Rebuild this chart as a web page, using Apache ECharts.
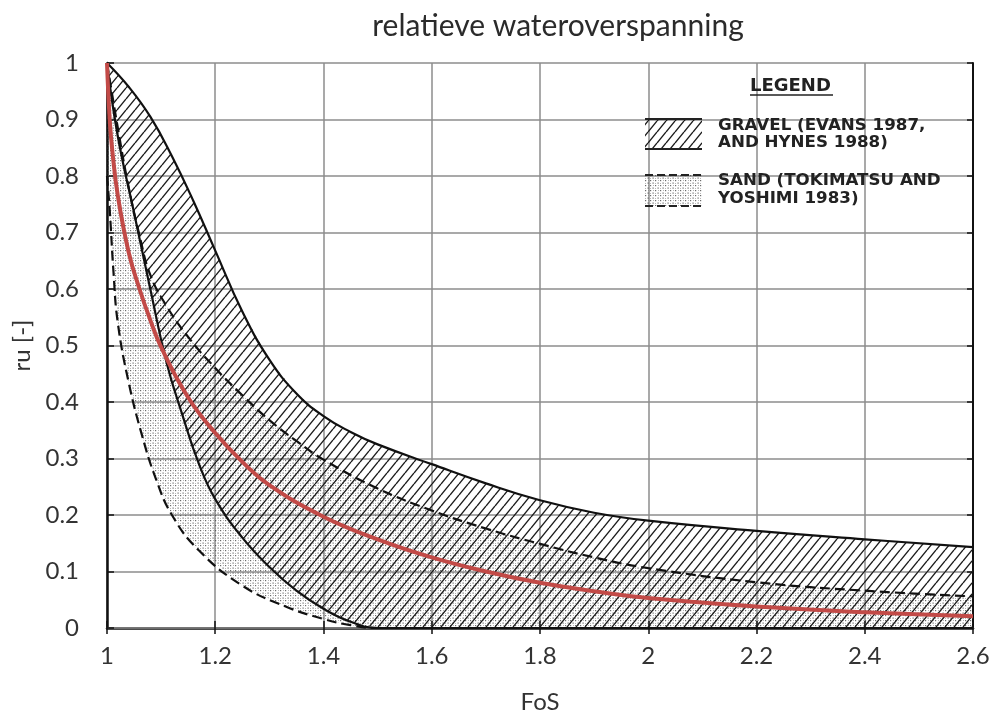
<!DOCTYPE html>
<html><head><meta charset="utf-8">
<script src="https://cdn.jsdelivr.net/npm/echarts@6/dist/echarts.min.js"></script>
<style>html,body{margin:0;padding:0;background:#fff}#c{width:994px;height:719px}</style>
</head><body><div id="c"></div>
<script>
// ---------- data ----------
var titleText = 'relatieve wateroverspanning';
var xName = 'FoS';
var yName = 'ru [-]';
var xTickLabels = ['1', '1.2', '1.4', '1.6', '1.8', '2', '2.2', '2.4', '2.6'];
var yTickLabels = ['0', '0.1', '0.2', '0.3', '0.4', '0.5', '0.6', '0.7', '0.8', '0.9', '1'];

// gravel band, upper boundary (solid)
var gravelUpperFos = [1.0, 1.04, 1.08, 1.12, 1.16, 1.2, 1.25, 1.3, 1.35, 1.4, 1.45, 1.5, 1.6, 1.7, 1.8, 1.9, 2.0, 2.2, 2.4, 2.6];
var gravelUpperRu  = [1.0, 0.958, 0.905, 0.835, 0.755, 0.668, 0.56, 0.475, 0.415, 0.375, 0.347, 0.325, 0.29, 0.256, 0.226, 0.204, 0.19, 0.172, 0.157, 0.143];
// gravel band, lower boundary (solid)
var gravelLowerFos = [1.0, 1.02, 1.05, 1.08, 1.11, 1.14, 1.17, 1.2, 1.25, 1.3, 1.35, 1.4, 1.45, 1.5, 2.6];
var gravelLowerRu  = [1.0, 0.87, 0.735, 0.6, 0.47, 0.375, 0.29, 0.228, 0.16, 0.108, 0.066, 0.034, 0.011, 0.0, 0.0];
// sand band, upper boundary (dashed)
var sandUpperFos = [1.0, 1.02, 1.04, 1.06, 1.08, 1.11, 1.15, 1.2, 1.25, 1.3, 1.35, 1.4, 1.5, 1.6, 1.7, 1.8, 1.9, 2.0, 2.2, 2.4, 2.6];
var sandUpperRu  = [1.0, 0.885, 0.78, 0.695, 0.625, 0.57, 0.515, 0.46, 0.412, 0.368, 0.331, 0.298, 0.247, 0.208, 0.176, 0.149, 0.125, 0.106, 0.081, 0.066, 0.056];
// sand band, lower boundary (dashed)
var sandLowerFos = [1.0, 1.005, 1.012, 1.02, 1.04, 1.065, 1.09, 1.12, 1.17, 1.25, 1.33, 1.4, 1.45, 1.5, 2.6];
var sandLowerRu  = [0.8, 0.74, 0.63, 0.54, 0.435, 0.34, 0.265, 0.2, 0.137, 0.075, 0.038, 0.016, 0.005, 0.0, 0.0];
// red curve
var redFos = [1.0, 1.005, 1.01, 1.02, 1.04, 1.06, 1.08, 1.1, 1.15, 1.2, 1.25, 1.3, 1.4, 1.5, 1.6, 1.7, 1.8, 1.9, 2.0, 2.2, 2.4, 2.6];
var redRu  = [1.0, 0.9, 0.843, 0.765, 0.665, 0.6, 0.545, 0.497, 0.408, 0.345, 0.294, 0.253, 0.197, 0.157, 0.125, 0.1, 0.08, 0.065, 0.053, 0.038, 0.028, 0.021];

var legendTitle = 'LEGEND';
var gravelLabel = ['GRAVEL (EVANS 1987,', 'AND HYNES 1988)'];
var sandLabel = ['SAND (TOKIMATSU AND', 'YOSHIMI 1983)'];

// ---------- patterns ----------
function makeHatch() {
  var w = 9, h = 11;
  var c = document.createElement('canvas'); c.width = w; c.height = h;
  var g = c.getContext('2d');
  g.strokeStyle = '#1a1a1a'; g.lineWidth = 1.4;
  for (var k = -1; k <= 1; k++) { g.beginPath(); g.moveTo(k * w, h); g.lineTo(k * w + w, 0); g.stroke(); }
  return c;
}
function makeDots() {
  var w = 5, h = 5;
  var c = document.createElement('canvas'); c.width = w; c.height = h;
  var g = c.getContext('2d');
  g.fillStyle = 'rgba(70,70,70,0.8)';
  g.fillRect(0, 0, 1.2, 1.2);
  g.fillRect(2.5, 2.5, 1.2, 1.2);
  g.fillStyle = 'rgba(120,120,120,0.55)';
  g.fillRect(3, 0, 1, 1);
  g.fillRect(0, 3, 1, 1);
  return c;
}
var hatchFill = { image: makeHatch(), repeat: 'repeat' };
var dotFill = { image: makeDots(), repeat: 'repeat' };

function pairs(xs, ys) { return xs.map(function (x, i) { return [x, ys[i]]; }); }

function bandRenderer(upX, upY, loX, loY, fill) {
  return function (params, api) {
    if (params.dataIndex !== 0) return null;
    var pts = [];
    for (var i = 0; i < upX.length; i++) pts.push(api.coord([upX[i], upY[i]]));
    for (var j = loX.length - 1; j >= 0; j--) pts.push(api.coord([loX[j], loY[j]]));
    return { type: 'polygon', shape: { points: pts }, style: { fill: fill, stroke: null }, silent: true };
  };
}

var labelFont = 'Lato';
var gridColor = '#8c8c8c';
var frame = '#111';
var sm = 0.45;

var chart = echarts.init(document.getElementById('c'), null, { renderer: 'canvas' });
chart.setOption({
  animation: false,
  backgroundColor: '#fff',
  title: {
    text: titleText, left: 553, top: 6, textAlign: 'center',
    textStyle: { fontFamily: labelFont, fontSize: 30, fontWeight: 'normal', color: '#2b2b2b' }
  },
  grid: { left: 107, right: 21, top: 63, bottom: 85 },
  xAxis: [{
    type: 'value', min: 1, max: 2.6, interval: 0.2, position: 'bottom',
    name: xName, nameLocation: 'middle', nameGap: 62,
    nameTextStyle: { fontFamily: labelFont, fontSize: 24, color: '#333' },
    axisLine: { lineStyle: { color: frame, width: 2.5 } },
    axisTick: { show: true, inside: true, length: 7, lineStyle: { color: frame, width: 1.5 } },
    axisLabel: { fontFamily: labelFont, fontSize: 24, color: '#333', margin: 16,
      formatter: function (v, i) { return xTickLabels[i]; } },
    splitLine: { show: true, lineStyle: { color: gridColor, width: 1.5 } }
  }, {
    type: 'value', min: 1, max: 2.6, interval: 0.2, position: 'top',
    axisLine: { lineStyle: { color: gridColor, width: 1.5 } },
    axisTick: { show: true, inside: true, length: 6, lineStyle: { color: frame, width: 1.5 } },
    axisLabel: { show: false }, splitLine: { show: false }
  }],
  yAxis: [{
    type: 'value', min: 0, max: 1, interval: 0.1, position: 'left',
    name: yName, nameLocation: 'middle', nameGap: 72,
    nameTextStyle: { fontFamily: labelFont, fontSize: 24, color: '#333' },
    axisLine: { show: true, lineStyle: { color: frame, width: 2.5 } },
    axisTick: { show: true, inside: true, length: 7, lineStyle: { color: frame, width: 1.5 } },
    axisLabel: { fontFamily: labelFont, fontSize: 24, color: '#333', margin: 28,
      formatter: function (v, i) { return yTickLabels[i]; } },
    splitLine: { show: true, lineStyle: { color: gridColor, width: 1.5 } }
  }, {
    type: 'value', min: 0, max: 1, interval: 0.1, position: 'right',
    axisLine: { show: true, lineStyle: { color: frame, width: 2 } },
    axisTick: { show: true, inside: true, length: 6, lineStyle: { color: frame, width: 1.5 } },
    axisLabel: { show: false }, splitLine: { show: false }
  }],
  series: [
    { type: 'custom', z: 1, silent: true, clip: true,
      renderItem: bandRenderer(sandUpperFos, sandUpperRu, sandLowerFos, sandLowerRu, dotFill),
      data: pairs(sandUpperFos, sandUpperRu) },
    { type: 'custom', z: 2, silent: true, clip: true,
      renderItem: bandRenderer(gravelUpperFos, gravelUpperRu, gravelLowerFos, gravelLowerRu, hatchFill),
      data: pairs(gravelUpperFos, gravelUpperRu) },
    { type: 'line', z: 3, data: pairs(gravelUpperFos, gravelUpperRu), showSymbol: false, smooth: sm,
      lineStyle: { color: frame, width: 2.2 } },
    { type: 'line', z: 3, data: pairs(gravelLowerFos, gravelLowerRu), showSymbol: false, smooth: sm,
      lineStyle: { color: frame, width: 2.2 } },
    { type: 'line', z: 3, data: pairs(sandUpperFos, sandUpperRu), showSymbol: false, smooth: sm,
      lineStyle: { color: frame, width: 2.2, type: [10, 5] } },
    { type: 'line', z: 3, data: pairs(sandLowerFos, sandLowerRu), showSymbol: false, smooth: sm,
      lineStyle: { color: frame, width: 2.2, type: [10, 5] } },
    { type: 'line', z: 4, data: pairs(redFos, redRu), showSymbol: false, smooth: sm,
      lineStyle: { color: '#c24a47', width: 4 } }
  ],
  graphic: [
    { type: 'text', left: 750, top: 77, z: 10,
      style: { text: legendTitle, font: 'bold 18px "DejaVu Sans"', fill: '#222' } },
    { type: 'line', z: 10, shape: { x1: 750, y1: 95, x2: 833, y2: 95 }, style: { stroke: '#222', lineWidth: 1.5 } },
    { type: 'rect', z: 10, shape: { x: 645, y: 119, width: 57, height: 30 }, style: { fill: hatchFill } },
    { type: 'line', z: 10, shape: { x1: 645, y1: 119, x2: 702, y2: 119 }, style: { stroke: '#222', lineWidth: 1.8 } },
    { type: 'line', z: 10, shape: { x1: 645, y1: 149, x2: 702, y2: 149 }, style: { stroke: '#222', lineWidth: 2.2 } },
    { type: 'text', z: 10, x: 718, y: 126, style: { text: gravelLabel[0], font: 'bold 16.7px "DejaVu Sans"', fill: '#222', verticalAlign: 'middle' } },
    { type: 'text', z: 10, x: 718, y: 143, style: { text: gravelLabel[1], font: 'bold 16.7px "DejaVu Sans"', fill: '#222', verticalAlign: 'middle' } },
    { type: 'rect', z: 10, shape: { x: 645, y: 175, width: 57, height: 31 }, style: { fill: dotFill } },
    { type: 'line', z: 10, shape: { x1: 645, y1: 175, x2: 702, y2: 175 }, style: { stroke: '#222', lineWidth: 1.8, lineDash: [8, 4] } },
    { type: 'line', z: 10, shape: { x1: 645, y1: 206, x2: 702, y2: 206 }, style: { stroke: '#222', lineWidth: 2.2, lineDash: [8, 4] } },
    { type: 'text', z: 10, x: 718, y: 181, style: { text: sandLabel[0], font: 'bold 16.7px "DejaVu Sans"', fill: '#222', verticalAlign: 'middle' } },
    { type: 'text', z: 10, x: 718, y: 199, style: { text: sandLabel[1], font: 'bold 16.7px "DejaVu Sans"', fill: '#222', verticalAlign: 'middle' } }
  ]
});
</script>
</body></html>
